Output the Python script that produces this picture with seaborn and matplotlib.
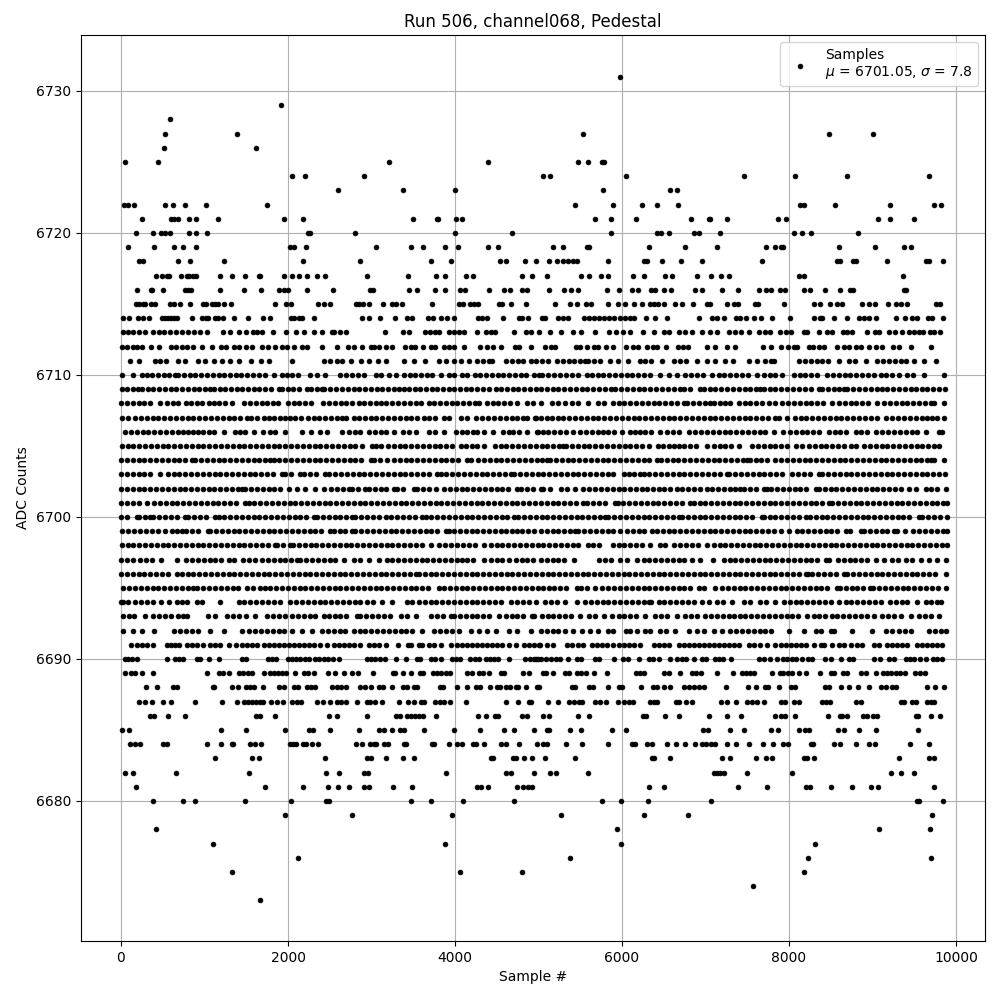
import pandas as pd
import matplotlib
matplotlib.use("Agg")
import matplotlib.pyplot as plt
import seaborn as sns

# sample numbers, one list per ADC level
adc_6731 = [5970]
adc_6729 = [1912]
adc_6728 = [592]
adc_6727 = [532, 1384, 5538, 8478, 9006]
adc_6726 = [520, 1612]
adc_6725 = [52, 448, 3208, 4396, 5478, 5598, 5766, 5790]
adc_6724 = [2044, 2200, 2908, 5058, 5142, 6042, 7458, 8070, 8694, 9678]
adc_6723 = [2596, 3376, 4000, 5778, 6570, 6654]
adc_6722 = [36, 88, 160, 532, 620, 772, 1012, 1744, 5442, 5898, 6234, 6414, 6666, 8130, 8178, 8550, 9210, 9738, 9822]
adc_6721 = [256, 604, 636, 680, 820, 896, 1156, 1948, 2176, 3496, 3788, 3800, 4012, 4088, 5682, 5874, 6162, 6822, 7038, 7058, 7254, 7866, 7962, 9066, 9210, 9498]
adc_6720 = [184, 388, 484, 532, 592, 820, 896, 1024, 2236, 2260, 2800, 4000, 4684, 5874, 6414, 6462, 6558, 6858, 6918, 7170, 8058, 8154, 8262, 8826]
adc_6719 = [88, 400, 640, 748, 904, 2020, 2068, 2212, 3052, 3472, 3616, 3880, 4036, 4396, 4516, 5178, 5298, 5586, 5610, 6318, 6750, 7134, 7722, 7830, 7902, 7926, 8598, 9030, 9378, 9462]
adc_6718 = [220, 268, 688, 832, 1228, 2176, 2860, 3712, 3952, 4540, 4612, 4840, 4974, 5130, 5226, 5290, 5350, 5410, 5458, 5838, 6258, 6294, 6474, 6702, 6954, 7674, 8574, 8610, 8766, 8802, 9174, 9642, 9678, 9846]
adc_6717 = [424, 496, 556, 580, 724, 796, 820, 868, 904, 1180, 1324, 1480, 1648, 1660, 1948, 2044, 2128, 2224, 2344, 2440, 2944, 3436, 3772, 3880, 4132, 4216, 4804, 4924, 5106, 5514, 5610, 5754, 5838, 6126, 6258, 6510, 6594, 6894, 7062, 7182, 7278, 8118, 8178, 9366]
adc_6716 = [196, 364, 376, 508, 772, 808, 844, 1180, 1468, 1672, 1888, 1948, 1996, 2224, 2536, 2980, 3016, 3448, 3544, 3760, 3880, 4060, 4120, 4408, 4588, 4660, 4804, 4864, 5130, 5310, 5394, 5478, 5826, 5958, 6114, 6186, 6342, 6390, 6498, 6582, 6870, 6954, 7194, 7386, 7638, 7720, 7790, 7890, 7950, 8178, 8250, 8430, 8610, 8730, 8766, 9378, 9402]
adc_6715 = [180, 220, 268, 292, 364, 412, 592, 640, 712, 832, 988, 1012, 1084, 1120, 1156, 1228, 1312, 1840, 1972, 2032, 2356, 2428, 2500, 2812, 2848, 2896, 2968, 3136, 3244, 3292, 3364, 3724, 4048, 4096, 4180, 4228, 4276, 4528, 4564, 4672, 4852, 5202, 5382, 5466, 5574, 5634, 5838, 5946, 6038, 6140, 6238, 6334, 6378, 6430, 6498, 6634, 6714, 6846, 7014, 7058, 7254, 7342, 7386, 7590, 7626, 7938, 8298, 8370, 8490, 8574, 8634, 8874, 8962, 9030, 9186, 9282, 9338, 9414, 9762, 9810]
adc_6714 = [28, 100, 208, 268, 340, 496, 532, 568, 604, 640, 676, 856, 976, 1012, 1036, 1120, 1156, 1216, 1348, 1516, 1696, 1780, 2032, 2068, 2128, 2164, 2308, 2884, 2968, 3100, 3280, 3424, 3484, 3676, 3736, 3832, 3904, 3988, 4276, 4324, 4384, 4576, 4768, 4804, 4876, 5046, 5078, 5238, 5298, 5358, 5550, 5610, 5670, 5730, 5790, 5850, 5910, 5970, 6030, 6090, 6138, 6282, 6390, 6534, 6918, 7074, 7134, 7218, 7362, 7410, 7482, 7578, 7662, 7794, 8010, 8298, 8370, 8398, 8538, 8694, 8838, 8898, 8958, 9042, 9282, 9390, 9474, 9534, 9666, 9714, 9846]
adc_6713 = [20, 80, 140, 210, 288, 388, 450, 520, 590, 660, 730, 808, 880, 950, 1028, 1216, 1300, 1408, 1492, 1576, 1630, 1688, 1816, 1972, 2092, 2188, 2308, 2408, 2524, 2548, 2620, 2692, 3160, 3376, 3448, 3640, 3700, 3760, 3808, 3928, 3990, 4050, 4108, 4264, 4372, 4430, 4480, 4708, 4852, 4908, 5010, 5142, 5274, 5418, 5514, 5682, 5850, 5930, 6010, 6090, 6246, 6378, 6498, 6558, 6678, 6758, 6834, 6954, 7050, 7138, 7278, 7350, 7430, 7518, 7638, 7710, 7778, 7890, 7958, 8018, 8178, 8218, 8358, 8454, 8514, 8646, 8700, 8758, 8934, 9030, 9078, 9198, 9270, 9358, 9438, 9500, 9558, 9610, 9690, 9738, 9810]
adc_6712 = [8, 70, 148, 196, 256, 364, 460, 604, 664, 730, 796, 868, 968, 1088, 1192, 1252, 1348, 1408, 1492, 1568, 1684, 1756, 1840, 1924, 1988, 2068, 2164, 2224, 2404, 2588, 2716, 2788, 2888, 2992, 3028, 3088, 3172, 3248, 3400, 3472, 3520, 3616, 3712, 3760, 3868, 3928, 3988, 4108, 4300, 4384, 4456, 4552, 4720, 4768, 4912, 5082, 5148, 5202, 5450, 5498, 5586, 5660, 5718, 5814, 5898, 6050, 6126, 6186, 6294, 6366, 6414, 6522, 6666, 6726, 6786, 7018, 7110, 7258, 7350, 7686, 7782, 7902, 7986, 8060, 8098, 8238, 8286, 8358, 8418, 8574, 8658, 8718, 8802, 8862, 8958, 9040, 9118, 9246, 9318, 9462, 9702]
adc_6711 = [112, 212, 408, 470, 540, 688, 764, 928, 1000, 1108, 1208, 1308, 1408, 1556, 1676, 1768, 2048, 2428, 2500, 2588, 2644, 2756, 2876, 2972, 3080, 3168, 3388, 3508, 3644, 3808, 3888, 3988, 4076, 4172, 4268, 4340, 4410, 4448, 4608, 4680, 4750, 4820, 4908, 4968, 5038, 5118, 5218, 5290, 5360, 5430, 5500, 5558, 5598, 5670, 5740, 5858, 5950, 6066, 6210, 6280, 6350, 6478, 6618, 6690, 6770, 6898, 7018, 7118, 7238, 7326, 7518, 7618, 7718, 7790, 7818, 8118, 8190, 8260, 8330, 8400, 8470, 8598, 8718, 8790, 8918, 9058, 9130, 9200, 9270, 9340, 9398, 9498, 9618, 9758]
adc_6710 = [8, 148, 248, 308, 370, 440, 510, 578, 648, 688, 756, 826, 890, 960, 1030, 1096, 1168, 1232, 1300, 1372, 1440, 1508, 1580, 1650, 1728, 1828, 1928, 1990, 2048, 2116, 2268, 2348, 2448, 2628, 2696, 2770, 2840, 2908, 3048, 3108, 3208, 3288, 3388, 3456, 3526, 3590, 3660, 3730, 3828, 3928, 3988, 4088, 4148, 4236, 4300, 4372, 4440, 4510, 4580, 4650, 4716, 4786, 4856, 4948, 5000, 5038, 5118, 5190, 5258, 5330, 5398, 5470, 5578, 5638, 5708, 5776, 5846, 5914, 5986, 6056, 6120, 6190, 6258, 6338, 6450, 6558, 6658, 6758, 6830, 6898, 6968, 7078, 7158, 7226, 7296, 7368, 7436, 7506, 7618, 7698, 7770, 7838, 7918, 8058, 8128, 8196, 8268, 8338, 8458, 8526, 8596, 8666, 8734, 8806, 8876, 8946, 9016, 9098, 9158, 9230, 9318, 9418, 9490, 9618, 9858]
adc_6709 = [8, 70, 140, 208, 248, 318, 386, 456, 526, 596, 664, 732, 800, 870, 940, 1008, 1068, 1116, 1180, 1248, 1316, 1384, 1452, 1520, 1588, 1656, 1724, 1792, 1888, 1928, 1996, 2064, 2132, 2228, 2276, 2344, 2408, 2436, 2508, 2580, 2648, 2720, 2788, 2856, 2924, 2992, 3060, 3128, 3196, 3264, 3332, 3388, 3448, 3516, 3584, 3652, 3720, 3788, 3856, 3924, 3992, 4060, 4128, 4196, 4264, 4340, 4408, 4488, 4556, 4624, 4692, 4760, 4828, 4896, 4968, 5030, 5100, 5170, 5238, 5308, 5378, 5446, 5516, 5586, 5656, 5726, 5796, 5866, 5918, 5988, 6058, 6128, 6198, 6268, 6338, 6408, 6478, 6548, 6618, 6698, 6746, 6816, 6930, 6978, 7048, 7118, 7188, 7258, 7328, 7398, 7468, 7538, 7608, 7658, 7698, 7768, 7838, 7908, 7978, 8048, 8118, 8188, 8258, 8358, 8398, 8468, 8538, 8598, 8658, 8698, 8768, 8838, 8908, 8978, 9048, 9118, 9178, 9248, 9318, 9388, 9458, 9518, 9588, 9658, 9728, 9798, 9868]
adc_6708 = [0, 70, 140, 210, 280, 350, 468, 548, 618, 688, 780, 836, 906, 976, 1048, 1108, 1178, 1248, 1328, 1476, 1546, 1616, 1688, 1748, 1818, 1876, 1996, 2066, 2136, 2206, 2276, 2420, 2490, 2560, 2630, 2700, 2770, 2848, 2908, 2978, 3048, 3108, 3178, 3248, 3318, 3388, 3458, 3528, 3598, 3688, 3748, 3818, 3888, 3958, 4028, 4098, 4168, 4238, 4288, 4380, 4450, 4520, 4590, 4660, 4748, 4860, 4930, 5028, 5158, 5228, 5318, 5398, 5468, 5598, 5718, 5788, 5898, 5958, 6028, 6098, 6168, 6238, 6308, 6378, 6448, 6518, 6588, 6658, 6738, 6778, 6848, 6918, 6988, 7058, 7098, 7168, 7238, 7298, 7398, 7468, 7538, 7608, 7678, 7758, 7838, 7918, 7988, 8058, 8128, 8198, 8268, 8338, 8408, 8518, 8598, 8668, 8738, 8808, 8878, 8948, 9058, 9138, 9208, 9278, 9348, 9418, 9488, 9558, 9628, 9698, 9738, 9858]
adc_6707 = [8, 88, 168, 238, 308, 378, 448, 518, 588, 658, 728, 798, 868, 938, 1008, 1078, 1148, 1218, 1288, 1358, 1428, 1508, 1556, 1626, 1708, 1768, 1838, 1908, 1968, 2028, 2088, 2156, 2236, 2306, 2376, 2446, 2516, 2586, 2648, 2700, 2788, 2848, 2918, 2988, 3058, 3128, 3198, 3268, 3338, 3408, 3478, 3548, 3628, 3688, 3758, 3868, 3928, 4076, 4146, 4248, 4328, 4398, 4468, 4538, 4608, 4678, 4748, 4818, 4868, 4968, 4958, 5028, 5098, 5158, 5228, 5298, 5368, 5438, 5508, 5578, 5648, 5718, 5788, 5858, 5928, 5998, 6068, 6138, 6208, 6278, 6348, 6418, 6488, 6558, 6628, 6698, 6768, 6838, 6908, 6978, 7048, 7118, 7188, 7258, 7328, 7398, 7468, 7538, 7608, 7678, 7748, 7838, 7878, 7978, 8066, 8138, 8208, 8278, 8348, 8418, 8488, 8558, 8628, 8698, 8768, 8838, 8908, 8978, 9058, 9158, 9238, 9308, 9378, 9448, 9518, 9598, 9658, 9718, 9778, 9858]
adc_6706 = [48, 118, 188, 258, 328, 398, 468, 538, 608, 678, 748, 808, 868, 928, 988, 1048, 1118, 1228, 1368, 1428, 1488, 1588, 1696, 1788, 1848, 1960, 2168, 2276, 2380, 2468, 2648, 2728, 2808, 2868, 2968, 3038, 3108, 3168, 3268, 3380, 3450, 3528, 3688, 3758, 3868, 4008, 4078, 4148, 4218, 4268, 4348, 4460, 4580, 4650, 4700, 4768, 4868, 4996, 4978, 5048, 5118, 5188, 5258, 5328, 5418, 5498, 5568, 5638, 5708, 5778, 5838, 5906, 5998, 6090, 6160, 6218, 6278, 6348, 6458, 6538, 6608, 6678, 6798, 6878, 6948, 7018, 7088, 7158, 7228, 7298, 7368, 7438, 7508, 7578, 7648, 7718, 7818, 7926, 8010, 8080, 8150, 8220, 8290, 8360, 8478, 8546, 8616, 8686, 8798, 8858, 8928, 9038, 9118, 9188, 9258, 9328, 9398, 9468, 9538, 9638, 9798, 9838]
adc_6705 = [8, 78, 148, 218, 288, 358, 428, 498, 568, 638, 708, 778, 848, 918, 988, 1058, 1128, 1198, 1268, 1338, 1408, 1478, 1548, 1618, 1688, 1758, 1828, 1898, 1968, 2038, 2108, 2178, 2248, 2318, 2388, 2458, 2528, 2598, 2668, 2738, 2808, 2888, 3008, 3048, 3108, 3196, 3266, 3336, 3406, 3476, 3546, 3616, 3686, 3756, 3826, 3896, 3966, 4068, 4128, 4198, 4268, 4348, 4476, 4546, 4616, 4686, 4756, 4826, 4896, 4966, 5036, 5106, 5176, 5246, 5298, 5330, 5400, 5470, 5540, 5610, 5680, 5750, 5820, 5890, 5960, 6030, 6100, 6170, 6240, 6318, 6426, 6496, 6566, 6618, 6678, 6748, 6818, 6888, 7018, 7098, 7168, 7238, 7308, 7398, 7558, 7628, 7698, 7768, 7838, 7908, 7978, 8078, 8158, 8238, 8308, 8378, 8448, 8518, 8588, 8658, 8738, 8798, 8898, 8968, 9038, 9108, 9178, 9248, 9318, 9388, 9458, 9528, 9598, 9668, 9738, 9798]
adc_6704 = [0, 70, 140, 210, 280, 350, 420, 490, 560, 630, 700, 770, 848, 888, 958, 1028, 1098, 1168, 1238, 1308, 1378, 1448, 1518, 1588, 1658, 1728, 1788, 1828, 1898, 1968, 2038, 2108, 2178, 2248, 2318, 2388, 2458, 2528, 2598, 2668, 2738, 2808, 2878, 2988, 3028, 3098, 3180, 3268, 3338, 3408, 3478, 3548, 3618, 3688, 3758, 3828, 3898, 3968, 4038, 4148, 4196, 4276, 4346, 4416, 4486, 4556, 4626, 4696, 4766, 4836, 4906, 4976, 5046, 5098, 5138, 5208, 5278, 5348, 5418, 5488, 5558, 5628, 5698, 5768, 5838, 5908, 5978, 6048, 6118, 6188, 6258, 6328, 6418, 6466, 6536, 6606, 6676, 6746, 6816, 6886, 6956, 7026, 7096, 7166, 7236, 7306, 7376, 7446, 7498, 7530, 7600, 7670, 7740, 7838, 7906, 7976, 8046, 8116, 8186, 8256, 8326, 8396, 8466, 8536, 8606, 8676, 8746, 8816, 8886, 8956, 9026, 9096, 9166, 9236, 9306, 9376, 9446, 9516, 9586, 9656, 9698, 9738, 9858]
adc_6703 = [0, 70, 140, 210, 280, 350, 468, 560, 630, 700, 770, 840, 910, 980, 1050, 1120, 1190, 1260, 1330, 1400, 1470, 1540, 1610, 1680, 1750, 1820, 1928, 1968, 2038, 2148, 2196, 2260, 2330, 2448, 2496, 2566, 2636, 2706, 2776, 2846, 2916, 2986, 3056, 3126, 3196, 3266, 3336, 3406, 3476, 3546, 3616, 3686, 3788, 3828, 3898, 3968, 4038, 4108, 4178, 4248, 4318, 4388, 4458, 4528, 4598, 4676, 4708, 4778, 4848, 4918, 4988, 5058, 5128, 5198, 5268, 5338, 5408, 5478, 5548, 5618, 5688, 5758, 5828, 5898, 6018, 6078, 6148, 6218, 6258, 6328, 6398, 6468, 6538, 6608, 6678, 6748, 6818, 6888, 6958, 7028, 7098, 7168, 7258, 7286, 7356, 7426, 7496, 7566, 7636, 7706, 7776, 7846, 7916, 8038, 8106, 8176, 8246, 8358, 8398, 8468, 8538, 8608, 8678, 8748, 8818, 8888, 8958, 9028, 9098, 9178, 9238, 9308, 9378, 9448, 9518, 9588, 9658, 9728, 9798, 9868]
adc_6702 = [0, 70, 140, 210, 280, 350, 420, 490, 560, 630, 708, 768, 838, 908, 978, 1048, 1118, 1188, 1258, 1328, 1398, 1448, 1488, 1558, 1628, 1698, 1768, 1838, 1908, 2008, 2108, 2208, 2320, 2428, 2520, 2590, 2660, 2728, 2768, 2838, 2928, 2968, 3038, 3108, 3178, 3268, 3308, 3378, 3508, 3548, 3618, 3688, 3768, 3868, 3938, 4008, 4078, 4148, 4218, 4288, 4358, 4428, 4498, 4568, 4638, 4740, 4796, 4866, 4936, 5028, 5058, 5138, 5266, 5336, 5438, 5538, 5608, 5678, 5748, 5818, 5888, 5958, 6028, 6098, 6168, 6238, 6298, 6368, 6438, 6508, 6578, 6658, 6718, 6788, 6858, 6928, 7018, 7078, 7148, 7218, 7288, 7358, 7418, 7466, 7536, 7606, 7698, 7738, 7786, 7856, 7926, 7996, 8066, 8136, 8206, 8318, 8358, 8428, 8498, 8568, 8638, 8708, 8778, 8848, 8918, 8988, 9058, 9128, 9198, 9268, 9338, 9438, 9518, 9638, 9698, 9768, 9878]
adc_6701 = [0, 70, 140, 210, 308, 396, 466, 536, 606, 676, 746, 816, 886, 956, 1026, 1096, 1166, 1236, 1306, 1376, 1488, 1528, 1598, 1668, 1738, 1808, 1878, 1948, 2018, 2088, 2158, 2228, 2298, 2368, 2438, 2508, 2578, 2648, 2718, 2788, 2858, 2928, 2998, 3068, 3138, 3208, 3278, 3348, 3418, 3488, 3558, 3628, 3698, 3768, 3838, 3908, 3978, 4048, 4118, 4188, 4258, 4328, 4398, 4468, 4538, 4608, 4678, 4748, 4818, 4888, 4958, 5028, 5098, 5168, 5238, 5308, 5378, 5448, 5538, 5586, 5656, 5726, 5796, 5918, 5946, 6016, 6086, 6156, 6226, 6296, 6366, 6436, 6506, 6576, 6646, 6716, 6818, 6858, 6928, 6998, 7068, 7138, 7208, 7278, 7348, 7418, 7488, 7558, 7628, 7698, 7768, 7838, 7908, 7978, 8048, 8118, 8188, 8258, 8328, 8398, 8478, 8518, 8588, 8658, 8728, 8798, 8868, 8938, 9008, 9078, 9148, 9218, 9288, 9358, 9428, 9498, 9568, 9638, 9708, 9778, 9848, 9890]
adc_6700 = [0, 70, 188, 220, 290, 348, 388, 458, 528, 598, 668, 768, 808, 878, 948, 1018, 1128, 1168, 1238, 1308, 1378, 1448, 1518, 1588, 1658, 1728, 1798, 1868, 1938, 2008, 2078, 2148, 2218, 2308, 2348, 2418, 2488, 2558, 2628, 2698, 2768, 2808, 2878, 2948, 3018, 3088, 3168, 3236, 3306, 3376, 3446, 3516, 3608, 3648, 3718, 3788, 3858, 3928, 3998, 4068, 4138, 4208, 4278, 4348, 4418, 4488, 4558, 4628, 4708, 4756, 4826, 4896, 4966, 5036, 5106, 5176, 5246, 5316, 5386, 5456, 5526, 5596, 5666, 5736, 5798, 5838, 5908, 5978, 6048, 6118, 6188, 6258, 6328, 6398, 6468, 6538, 6608, 6678, 6718, 6788, 6858, 6928, 6998, 7068, 7138, 7208, 7278, 7348, 7418, 7488, 7558, 7678, 7698, 7768, 7838, 7908, 7978, 8048, 8118, 8198, 8250, 8320, 8390, 8460, 8530, 8600, 8670, 8740, 8810, 8880, 8950, 9020, 9090, 9160, 9230, 9300, 9370, 9440, 9558, 9598, 9668, 9738, 9808, 9890]
adc_6699 = [8, 88, 158, 228, 298, 368, 438, 528, 608, 668, 728, 780, 850, 920, 1036, 1068, 1138, 1208, 1278, 1348, 1418, 1488, 1558, 1628, 1698, 1768, 1838, 1908, 1978, 2048, 2118, 2188, 2258, 2328, 2398, 2500, 2548, 2618, 2688, 2768, 2808, 2878, 2948, 3018, 3088, 3158, 3228, 3298, 3368, 3438, 3508, 3578, 3648, 3718, 3788, 3888, 3928, 3988, 4058, 4128, 4198, 4268, 4338, 4408, 4478, 4548, 4608, 4688, 4748, 4808, 4878, 4948, 5028, 5098, 5168, 5238, 5308, 5378, 5438, 5478, 5548, 5618, 5688, 5758, 5828, 5898, 5978, 6058, 6128, 6198, 6268, 6358, 6418, 6488, 6558, 6628, 6698, 6768, 6838, 6908, 6978, 7048, 7118, 7188, 7258, 7328, 7398, 7468, 7538, 7608, 7678, 7748, 7818, 7898, 8000, 8098, 8158, 8228, 8298, 8368, 8438, 8508, 8578, 8678, 8730, 8858, 8898, 8968, 9038, 9108, 9178, 9258, 9298, 9386, 9490, 9560, 9630, 9700, 9770, 9840, 9890]
adc_6698 = [8, 78, 148, 220, 288, 358, 428, 498, 568, 638, 708, 778, 848, 918, 988, 1058, 1128, 1198, 1268, 1338, 1408, 1478, 1548, 1618, 1688, 1758, 1848, 1868, 1938, 2028, 2060, 2130, 2200, 2270, 2340, 2410, 2480, 2550, 2620, 2690, 2760, 2830, 2900, 2970, 3040, 3110, 3180, 3250, 3320, 3390, 3460, 3530, 3600, 3708, 3808, 3878, 3948, 4028, 4100, 4170, 4240, 4348, 4428, 4498, 4568, 4638, 4708, 4778, 4848, 4918, 4988, 5058, 5128, 5198, 5268, 5338, 5408, 5478, 5598, 5658, 5728, 5898, 5958, 6028, 6098, 6168, 6238, 6338, 6450, 6520, 6618, 6698, 6768, 6838, 6908, 7018, 7098, 7168, 7238, 7308, 7378, 7448, 7518, 7588, 7658, 7728, 7798, 7868, 7938, 8008, 8078, 8148, 8218, 8288, 8358, 8428, 8498, 8568, 8638, 8708, 8778, 8848, 8918, 8988, 9058, 9128, 9198, 9268, 9338, 9408, 9478, 9548, 9618, 9688, 9758, 9828, 9890]
adc_6697 = [0, 70, 140, 228, 300, 370, 476, 676, 780, 850, 920, 990, 1060, 1130, 1200, 1288, 1356, 1460, 1530, 1600, 1688, 1760, 1830, 1900, 1970, 2040, 2108, 2148, 2218, 2288, 2358, 2428, 2498, 2568, 2676, 2788, 2868, 2968, 3088, 3180, 3250, 3320, 3390, 3460, 3530, 3600, 3670, 3740, 3810, 3880, 3950, 4020, 4088, 4148, 4218, 4348, 4428, 4498, 4568, 4648, 4728, 4798, 4868, 4938, 5028, 5098, 5168, 5238, 5308, 5426, 5730, 5800, 5870, 5978, 6058, 6178, 6258, 6328, 6398, 6468, 6538, 6608, 6678, 6748, 6838, 6938, 7090, 7218, 7288, 7358, 7428, 7498, 7568, 7638, 7708, 7778, 7848, 7918, 7988, 8058, 8128, 8198, 8268, 8338, 8438, 8478, 8586, 8656, 8726, 8796, 8866, 8936, 9038, 9138, 9238, 9308, 9398, 9478, 9578, 9678, 9778, 9878]
adc_6696 = [0, 70, 140, 210, 280, 350, 420, 490, 560, 668, 728, 798, 868, 938, 1008, 1078, 1148, 1218, 1288, 1358, 1428, 1498, 1568, 1638, 1708, 1778, 1848, 1918, 1988, 2058, 2128, 2198, 2268, 2338, 2408, 2478, 2548, 2618, 2688, 2758, 2828, 2898, 2968, 3038, 3108, 3178, 3248, 3318, 3388, 3458, 3528, 3568, 3638, 3708, 3778, 3848, 3918, 3988, 4058, 4128, 4198, 4268, 4338, 4408, 4478, 4548, 4618, 4688, 4758, 4828, 4898, 4968, 5038, 5108, 5178, 5248, 5318, 5388, 5458, 5528, 5598, 5668, 5738, 5808, 5878, 5948, 6018, 6088, 6158, 6228, 6298, 6368, 6438, 6508, 6578, 6648, 6718, 6788, 6858, 6928, 6998, 7068, 7138, 7208, 7278, 7348, 7418, 7488, 7558, 7628, 7698, 7768, 7838, 7908, 7978, 8048, 8118, 8198, 8226, 8278, 8348, 8418, 8488, 8558, 8658, 8698, 8768, 8838, 8908, 8978, 9048, 9118, 9188, 9258, 9328, 9398, 9468, 9538, 9608, 9678, 9748, 9878]
adc_6695 = [28, 98, 168, 238, 308, 378, 448, 518, 588, 658, 728, 798, 868, 916, 986, 1056, 1126, 1196, 1266, 1336, 1406, 1508, 1580, 1660, 1728, 1788, 1858, 1928, 1998, 2068, 2138, 2208, 2278, 2348, 2418, 2488, 2558, 2628, 2698, 2768, 2838, 2908, 2978, 3048, 3118, 3188, 3258, 3328, 3398, 3468, 3538, 3608, 3678, 3808, 3868, 3938, 4008, 4078, 4148, 4218, 4288, 4358, 4428, 4498, 4568, 4638, 4708, 4778, 4848, 4918, 4988, 5058, 5130, 5186, 5256, 5326, 5458, 5506, 5576, 5678, 5758, 5838, 5908, 5978, 6048, 6118, 6188, 6258, 6328, 6398, 6468, 6538, 6608, 6678, 6748, 6818, 6918, 6978, 7118, 7198, 7268, 7338, 7408, 7478, 7548, 7618, 7688, 7758, 7828, 7898, 7968, 8038, 8108, 8178, 8248, 8318, 8388, 8458, 8578, 8610, 8680, 8750, 8820, 8890, 8970, 9010, 9080, 9150, 9220, 9290, 9360, 9430, 9500, 9570, 9640, 9710, 9780, 9878]
adc_6694 = [0, 28, 88, 168, 238, 308, 378, 476, 580, 676, 736, 796, 908, 968, 1180, 1408, 1478, 1548, 1618, 1688, 1758, 1828, 1908, 2028, 2098, 2168, 2238, 2308, 2378, 2448, 2518, 2588, 2658, 2728, 2798, 2868, 2948, 3020, 3128, 3248, 3428, 3488, 3568, 3638, 3708, 3778, 3848, 3918, 3988, 4058, 4128, 4198, 4268, 4338, 4408, 4478, 4548, 4668, 4748, 4818, 4888, 4968, 5078, 5148, 5218, 5318, 5458, 5558, 5628, 5698, 5768, 5838, 5908, 5978, 6048, 6118, 6188, 6258, 6318, 6346, 6438, 6508, 6578, 6648, 6718, 6788, 6858, 6958, 7038, 7138, 7208, 7318, 7458, 7528, 7658, 7730, 7838, 7938, 8008, 8078, 8148, 8218, 8288, 8358, 8428, 8498, 8598, 8678, 8748, 8818, 8888, 8958, 9028, 9098, 9210, 9278, 9348, 9418, 9538, 9638, 9698, 9768, 9826]
adc_6693 = [20, 90, 160, 288, 388, 458, 528, 598, 688, 748, 796, 1036, 1128, 1268, 1338, 1408, 1500, 1608, 1748, 1818, 1888, 1968, 2048, 2118, 2188, 2258, 2328, 2428, 2488, 2558, 2628, 2698, 2828, 2868, 2938, 3008, 3078, 3148, 3218, 3348, 3428, 3528, 3708, 3788, 3858, 3948, 3988, 4058, 4128, 4198, 4268, 4338, 4408, 4528, 4608, 4678, 4748, 4818, 4948, 4918, 5038, 5108, 5178, 5248, 5318, 5388, 5498, 5610, 5678, 5786, 5878, 5958, 6028, 6098, 6168, 6278, 6398, 6468, 6538, 6658, 6758, 6828, 6898, 6998, 7068, 7138, 7208, 7278, 7338, 7408, 7478, 7548, 7618, 7688, 7758, 7828, 7898, 7978, 8038, 8108, 8218, 8298, 8358, 8428, 8518, 8578, 8648, 8718, 8788, 8858, 8928, 9018, 9118, 9188, 9258, 9338, 9466, 9558, 9628, 9698, 9798]
adc_6692 = [28, 148, 248, 396, 636, 706, 776, 846, 928, 1060, 1236, 1448, 1528, 1608, 1678, 1748, 1818, 1888, 1958, 2048, 2168, 2288, 2408, 2478, 2548, 2618, 2688, 2788, 2858, 2928, 2998, 3068, 3138, 3208, 3278, 3348, 3418, 3488, 3608, 3748, 3818, 3888, 3958, 4048, 4196, 4288, 4388, 4488, 4648, 4748, 4908, 5028, 5098, 5168, 5238, 5318, 5410, 5518, 5618, 5718, 5838, 5898, 6050, 6098, 6178, 6278, 6338, 6458, 6528, 6638, 6798, 6898, 6978, 7098, 7198, 7298, 7368, 7438, 7508, 7578, 7648, 7718, 7786, 7998, 8178, 8318, 8388, 8498, 8538, 8758, 8998, 9158, 9238, 9318, 9388, 9458, 9678, 9748, 9818, 9878]
adc_6691 = [124, 188, 248, 308, 388, 548, 596, 648, 700, 796, 848, 908, 988, 1068, 1128, 1188, 1288, 1380, 1448, 1508, 1568, 1628, 1708, 1768, 1828, 1888, 1948, 2008, 2068, 2128, 2188, 2248, 2308, 2388, 2468, 2548, 2608, 2668, 2728, 2788, 2868, 2968, 3028, 3088, 3168, 3320, 3436, 3468, 3568, 3608, 3688, 3748, 3828, 3956, 4028, 4088, 4148, 4208, 4268, 4328, 4388, 4448, 4508, 4568, 4648, 4736, 4828, 4888, 4948, 5008, 5018, 5098, 5178, 5338, 5398, 5478, 5538, 5638, 5698, 5758, 5818, 5898, 5958, 6018, 6078, 6138, 6218, 6386, 6438, 6498, 6558, 6678, 6738, 6798, 6858, 6918, 6978, 7038, 7098, 7158, 7218, 7278, 7338, 7398, 7518, 7578, 7658, 7738, 7838, 7898, 7958, 8018, 8078, 8138, 8198, 8298, 8378, 8418, 8518, 8598, 8658, 8738, 8818, 8878, 9018, 9078, 9170, 9238, 9298, 9358, 9418, 9538, 9598, 9658, 9718, 9778, 9838]
adc_6690 = [52, 88, 136, 196, 556, 652, 700, 748, 916, 952, 1048, 1168, 1444, 1492, 1756, 1804, 1852, 1996, 2044, 2092, 2140, 2200, 2248, 2320, 2368, 2428, 2476, 2536, 2608, 2944, 2992, 3040, 3100, 3160, 3292, 3412, 3544, 3580, 3712, 3760, 3832, 3964, 4012, 4060, 4180, 4240, 4288, 4372, 4420, 4468, 4516, 4648, 4840, 4900, 4948, 4996, 4966, 5034, 5094, 5154, 5214, 5262, 5358, 5466, 5514, 5682, 5730, 5910, 6006, 6066, 6198, 6318, 6366, 6438, 6570, 6654, 6714, 6762, 6858, 6954, 7002, 7110, 7158, 7206, 7302, 7638, 7698, 7770, 7854, 7926, 7978, 8034, 8082, 8154, 8226, 8274, 8430, 8502, 8622, 8718, 8766, 9018, 9090, 9198, 9258, 9402, 9450, 9498, 9570, 9642, 9726, 9774, 9834]
adc_6689 = [52, 124, 172, 256, 388, 1024, 1168, 1216, 1288, 1408, 1456, 1516, 1564, 1708, 1780, 1828, 1876, 1924, 1972, 2080, 2188, 2236, 2308, 2476, 2560, 2668, 2764, 2836, 3016, 3256, 3280, 3376, 3472, 3580, 3616, 3736, 3784, 3832, 3892, 3940, 4144, 4204, 4288, 4336, 4408, 4552, 4588, 4816, 4888, 5058, 5094, 5178, 5322, 5370, 5466, 5514, 5574, 5670, 5826, 6162, 6210, 6258, 6498, 6558, 6690, 6834, 6882, 6942, 7134, 7326, 7434, 7482, 7530, 7578, 7794, 7890, 7926, 7986, 8034, 8118, 8202, 8370, 8502, 8538, 8646, 8694, 8862, 8922, 9042, 9126, 9174, 9222, 9282, 9330, 9390, 9510, 9570, 9630]
adc_6688 = [304, 436, 628, 676, 1096, 1108, 1324, 1396, 1492, 1540, 1588, 1696, 1888, 1948, 2068, 2116, 2224, 2272, 2320, 2524, 2584, 2632, 2692, 2860, 2920, 2992, 3088, 3136, 3244, 3376, 3424, 3508, 3544, 3820, 3856, 4024, 4144, 4252, 4300, 4420, 4504, 4540, 4612, 4660, 4732, 4756, 4852, 4984, 5010, 5406, 5442, 5610, 5658, 5838, 5958, 5994, 6222, 6366, 6414, 6498, 6570, 6738, 6798, 6858, 6918, 6978, 7242, 7506, 7602, 7710, 7746, 7878, 8022, 8070, 8430, 8478, 8622, 8718, 8826, 8958, 9102, 9162, 9234, 9282, 9654, 9750, 9858]
adc_6687 = [220, 292, 376, 508, 604, 892, 1204, 1384, 1468, 1516, 1564, 1612, 1660, 1696, 1792, 1864, 1936, 2044, 2104, 2152, 2344, 2416, 2500, 2584, 2632, 2692, 2824, 2944, 2980, 3040, 3124, 3328, 3436, 3508, 3592, 3628, 3760, 3820, 3868, 3940, 4132, 4612, 4756, 4888, 4912, 5118, 5238, 5370, 5430, 5490, 5526, 5682, 5742, 5814, 5946, 6018, 6078, 6126, 6338, 6378, 6422, 6642, 6678, 6762, 6834, 7182, 7254, 7362, 7494, 7554, 7620, 7706, 7902, 7950, 8054, 8118, 8394, 8442, 8490, 8802, 8862, 9342, 9378, 9474, 9522, 9654, 9702, 9738]
adc_6686 = [352, 400, 568, 772, 1612, 1660, 1840, 2488, 2584, 2944, 3292, 3340, 3424, 3472, 3520, 3568, 3616, 3772, 4276, 4372, 4480, 4516, 4804, 4864, 5058, 5130, 5478, 5610, 6246, 6282, 6510, 6678, 7038, 7254, 7422, 7830, 7902, 7950, 8070, 8466, 8610, 8634, 8694, 8886, 8934, 9006, 9054, 9522, 9546, 9702, 9810]
adc_6685 = [16, 100, 1192, 1492, 1960, 2248, 2296, 2500, 2848, 3088, 3148, 3244, 3340, 3388, 3628, 3988, 4300, 4588, 4708, 4948, 5106, 5130, 5382, 5514, 5886, 6042, 6966, 7026, 7298, 7458, 7782, 7866, 8118, 8190, 8238, 8586, 8658, 8838, 9042, 9546]
adc_6684 = [112, 172, 232, 508, 556, 1024, 1192, 1324, 1336, 1540, 1600, 1672, 2020, 2056, 2092, 2176, 2212, 2284, 2356, 2812, 2884, 2980, 3028, 3052, 3148, 3196, 3388, 3412, 3724, 3748, 3928, 4024, 4084, 4216, 4252, 4348, 4552, 4612, 4768, 4984, 5058, 5106, 5334, 5526, 5838, 6114, 6150, 6294, 6354, 6534, 6642, 6750, 6870, 6954, 7002, 7062, 7110, 7254, 7362, 7518, 7686, 7806, 7926, 7986, 8262, 8286, 8538, 8610, 8802, 8958, 9030, 9450, 9678]
adc_6683 = [1120, 1564, 1648, 2440, 2944, 2992, 3172, 3376, 3508, 4432, 4456, 4696, 4732, 4828, 4926, 5082, 5442, 6354, 6378, 6570, 7202, 7298, 7610, 7730, 7802, 8178, 8214, 8298, 9322, 9678, 9738]
adc_6682 = [52, 148, 664, 1528, 2452, 2608, 2908, 2956, 3892, 4612, 4672, 4950, 5142, 5214, 5598, 7098, 7134, 7170, 7218, 7494, 8034, 9222, 9342, 9498]
adc_6681 = [184, 1720, 2176, 2476, 2596, 2728, 2908, 2968, 3256, 3484, 4264, 4312, 4396, 4744, 4816, 4876, 4926, 6318, 6498, 7386, 7734, 8202, 8250, 8502, 8754, 8982, 9066, 9738]
adc_6680 = [388, 748, 892, 1480, 2032, 2452, 2488, 3472, 3712, 4096, 4708, 5766, 5982, 6306, 7062, 9534, 9558, 9846]
adc_6679 = [1960, 2764, 3964, 5274, 6258, 6786, 9714]
adc_6678 = [424, 5934, 9078, 9690]
adc_6677 = [1096, 3880, 5982, 8310]
adc_6676 = [2116, 5382, 8226, 9702]
adc_6675 = [1324, 4060, 4804, 8178]
adc_6674 = [7566]
adc_6673 = [1660]

levels = [6731, 6729, 6728, 6727, 6726, 6725, 6724, 6723, 6722, 6721, 6720, 6719, 6718, 6717, 6716, 6715, 6714, 6713, 6712, 6711,
          6710, 6709, 6708, 6707, 6706, 6705, 6704, 6703, 6702, 6701, 6700, 6699, 6698, 6697, 6696, 6695, 6694, 6693, 6692, 6691,
          6690, 6689, 6688, 6687, 6686, 6685, 6684, 6683, 6682, 6681, 6680, 6679, 6678, 6677, 6676, 6675, 6674, 6673]
samples = [adc_6731, adc_6729, adc_6728, adc_6727, adc_6726, adc_6725, adc_6724, adc_6723, adc_6722, adc_6721, adc_6720, adc_6719, adc_6718, adc_6717, adc_6716, adc_6715, adc_6714, adc_6713, adc_6712, adc_6711,
           adc_6710, adc_6709, adc_6708, adc_6707, adc_6706, adc_6705, adc_6704, adc_6703, adc_6702, adc_6701, adc_6700, adc_6699, adc_6698, adc_6697, adc_6696, adc_6695, adc_6694, adc_6693, adc_6692, adc_6691,
           adc_6690, adc_6689, adc_6688, adc_6687, adc_6686, adc_6685, adc_6684, adc_6683, adc_6682, adc_6681, adc_6680, adc_6679, adc_6678, adc_6677, adc_6676, adc_6675, adc_6674, adc_6673]

rows = []
for level, xs in zip(levels, samples):
    for x in xs:
        rows.append((x, level))
df = pd.DataFrame(rows, columns=["sample", "adc"])

fig, ax = plt.subplots(figsize=(10, 10), dpi=100)
sns.scatterplot(data=df, x="sample", y="adc", color="black", marker="o", s=12, linewidth=0.5,
                edgecolor="black", zorder=3, ax=ax,
                label="Samples\n$\\mu$ = 6701.05, $\\sigma$ = 7.8")
ax.set_xlim(-479, 10347)
ax.set_ylim(6670.14, 6733.94)
ax.grid(True)
ax.set_title("Run 506, channel068, Pedestal")
ax.set_xlabel("Sample #")
ax.set_ylabel("ADC Counts")
ax.legend(loc="upper right")
fig.subplots_adjust(left=0.081, right=0.985, top=0.965, bottom=0.059)
fig.savefig("out.png")
